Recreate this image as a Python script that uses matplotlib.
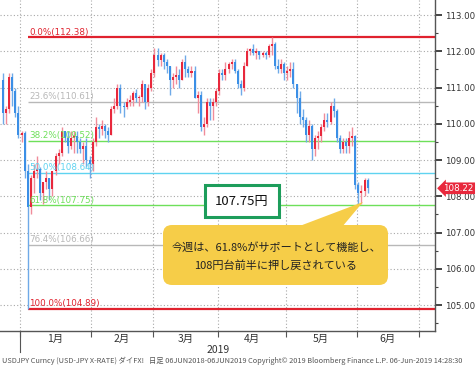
import numpy as np
import pandas as pd
import matplotlib
matplotlib.use('Agg')
import matplotlib.pyplot as plt
from matplotlib.patches import FancyBboxPatch, Rectangle, Polygon
from matplotlib.lines import Line2D
from matplotlib.transforms import Affine2D

plt.rcParams['font.family'] = ['Noto Sans CJK JP', 'DejaVu Sans']

# 日足 USD/JPY (2018/12/24 - 2019/06/06)
dates = pd.bdate_range('2018-12-24', '2019-06-06')

opens = [111.2, 110.3, 110.4, 111.3, 110.9, 110.3,
         109.7, 109.75, 108.7, 107.7, 108.5, 108.7, 108.75, 108.1, 108.4, 108.5, 108.2, 108.7, 109.1, 109.2, 109.8, 109.6, 109.4, 109.6, 109.65, 109.5, 109.3, 109.4, 109.0,
         108.9, 109.5, 109.9, 109.85, 109.95, 109.8, 109.7, 110.4, 110.5, 111.0, 110.5, 110.45, 110.6, 110.65, 110.85, 110.7, 110.75, 111.1, 110.6, 111.0,
         111.4, 111.9, 111.75, 111.9, 111.7, 111.6, 111.2, 111.3, 111.35, 111.2, 111.7, 111.5, 111.4, 111.45, 110.7, 110.8, 109.9, 110.0, 110.6, 110.5, 110.6,
         110.9, 111.4, 111.35, 111.5, 111.65, 111.7, 111.45, 111.1, 111.0, 111.6, 112.0, 112.05, 111.95, 112.0, 111.9, 111.95, 111.9, 112.15, 112.2, 111.6, 111.5, 111.65,
         111.4, 111.45, 111.5, 111.1, 110.7, 110.2, 110.1, 109.7, 109.95, 109.3, 109.6, 109.65, 109.9, 110.1, 110.05, 110.5, 110.35, 109.6, 109.3, 109.5, 109.4, 109.6, 109.65,
         108.3, 108.1, 108.15, 108.45]
highs = [111.4, 110.5, 111.4, 111.4, 111.0, 110.5,
         109.8, 109.8, 108.9, 108.6, 108.9, 109.1, 108.8, 108.4, 108.7, 108.5, 108.7, 109.2, 109.3, 109.9, 109.8, 109.8, 109.8, 109.8, 109.8, 109.6, 109.5, 109.6, 109.1,
         109.6, 110.2, 110.0, 110.1, 110.0, 109.9, 110.5, 110.7, 111.1, 111.1, 110.6, 110.7, 110.8, 110.9, 110.95, 110.8, 111.2, 111.1, 111.1, 111.5,
         112.1, 112.1, 111.95, 111.95, 111.8, 111.6, 111.4, 111.6, 111.5, 111.8, 111.9, 111.6, 111.6, 111.6, 110.9, 110.9, 110.2, 110.7, 110.7, 110.7, 111.0,
         111.5, 111.5, 111.7, 111.7, 111.8, 111.8, 111.5, 111.2, 111.7, 112.1, 112.1, 112.2, 112.1, 112.0, 112.0, 112.0, 112.2, 112.38, 112.25, 111.8, 111.8, 111.7,
         111.6, 111.7, 111.7, 111.1, 110.9, 110.4, 110.2, 110.1, 110.0, 109.7, 109.8, 110.0, 110.3, 110.3, 110.6, 110.7, 110.4, 109.7, 109.6, 109.6, 109.8, 109.9, 109.7,
         108.4, 108.3, 108.5, 108.5]
lows = [110.0, 110.0, 110.3, 110.5, 110.2, 109.6,
        109.5, 108.5, 104.89, 107.5, 108.1, 108.5, 107.9, 107.8, 108.2, 107.9, 108.0, 108.6, 108.9, 109.1, 109.5, 109.2, 109.3, 109.2, 109.2, 109.2, 108.9, 108.8, 108.5,
        108.7, 109.4, 109.6, 109.7, 109.6, 109.5, 109.7, 110.3, 110.4, 110.3, 110.2, 110.4, 110.5, 110.5, 110.6, 110.5, 110.6, 110.4, 110.5, 110.9,
        111.3, 111.6, 111.6, 111.5, 111.4, 110.8, 111.0, 111.1, 111.0, 111.2, 111.3, 111.3, 111.3, 110.7, 110.3, 109.8, 109.7, 109.9, 110.1, 110.1, 110.5,
        110.8, 111.2, 111.2, 111.4, 111.5, 111.4, 111.0, 110.8, 110.9, 111.6, 111.9, 111.9, 111.8, 111.8, 111.85, 111.8, 111.85, 111.9, 111.5, 111.4, 111.4, 111.2,
        111.2, 111.3, 111.0, 110.3, 110.0, 109.9, 109.5, 109.5, 109.0, 109.1, 109.3, 109.5, 109.8, 109.9, 110.0, 110.2, 109.5, 109.2, 109.2, 109.2, 109.2, 109.4, 108.2,
        107.8, 107.8, 108.0, 108.1]
closes = [110.3, 110.4, 111.3, 110.9, 110.3, 109.7,
          109.75, 108.7, 107.7, 108.5, 108.7, 108.75, 108.1, 108.4, 108.5, 108.2, 108.7, 109.1, 109.2, 109.8, 109.6, 109.4, 109.6, 109.65, 109.5, 109.3, 109.4, 109.0, 108.9,
          109.5, 109.9, 109.85, 109.95, 109.8, 109.7, 110.4, 110.5, 111.0, 110.5, 110.45, 110.6, 110.65, 110.85, 110.7, 110.75, 111.1, 110.6, 111.0, 111.4,
          111.9, 111.75, 111.9, 111.7, 111.6, 111.2, 111.3, 111.35, 111.2, 111.7, 111.5, 111.4, 111.45, 110.7, 110.8, 109.9, 110.0, 110.6, 110.5, 110.6, 110.9,
          111.4, 111.35, 111.5, 111.65, 111.7, 111.45, 111.1, 111.0, 111.6, 112.0, 112.05, 111.95, 112.0, 111.9, 111.95, 111.9, 112.15, 112.2, 111.6, 111.5, 111.65, 111.4,
          111.45, 111.5, 111.1, 110.7, 110.2, 110.1, 109.7, 109.95, 109.3, 109.6, 109.65, 109.9, 110.1, 110.05, 110.5, 110.35, 109.6, 109.3, 109.5, 109.4, 109.6, 109.65, 108.3,
          108.1, 108.15, 108.45, 108.22]

# フィボナッチ・リトレースメント
fib_pcts = ['0.0%', '23.6%', '38.2%', '50.0%', '61.8%', '76.4%', '100.0%']
fib_levels = [112.38, 110.61, 109.52, 108.64, 107.75, 106.66, 104.89]
fib_colors = ['#e0222e', '#b8b8b8', '#6ee05a', '#5fd3f0', '#6ee05a', '#b8b8b8', '#e0222e']

month_labels = ['1月', '2月', '3月', '4月', '5月', '6月']
month_starts = ['2019-01-01', '2019-02-01', '2019-03-01', '2019-04-01',
                '2019-05-01', '2019-06-01', '2019-07-01']
last_price = 108.22

W, H = 476, 368
fig = plt.figure(figsize=(W / 100, H / 100), dpi=100)
ax = fig.add_axes([0, 37 / H, 435 / W, 331 / H])
px = Affine2D().scale(1, -1).translate(0, H)  # 画像ピクセル座標

# 営業日インデックス (2019/1/1 = 0)
x = np.array([np.busday_count('2019-01-01', d.strftime('%Y-%m-%d')) for d in dates], dtype=float)
bounds = np.array([np.busday_count('2019-01-01', m) for m in month_starts]) - 0.5

o, h, l, c = map(np.array, (opens, highs, lows, closes))
up = c >= o
body_col = np.where(up, '#e8283c', '#3b8fe6')
wick_col = np.where(up, '#f08c9a', '#6faae8')

ax.vlines(x, l, h, colors=wick_col, lw=1.0, zorder=3)
ax.bar(x, np.maximum(np.abs(c - o), 0.04), bottom=np.minimum(o, c), width=0.65,
       color=body_col, zorder=4)

x_end = 133.8
for p, lv, col in zip(fib_pcts, fib_levels, fib_colors):
    lw = 1.6 if p in ('0.0%', '100.0%') else 1.0
    ax.hlines(lv, 2.1, x_end, colors=col, lw=lw, zorder=2)
    ax.text(2.4, lv + 0.02, f'{p}({lv:.2f})', color=col, fontsize=6.3,
            va='bottom', ha='left', family='DejaVu Sans', zorder=5)

ax.set_xlim(-6.97, x_end)
ax.set_ylim(104.283, 113.414)

ax.yaxis.tick_right()
ax.set_yticks(np.arange(105, 114))
ax.set_yticks(np.arange(104.5, 113.5, 0.5), minor=True)
ax.yaxis.set_major_formatter(matplotlib.ticker.FormatStrFormatter('%.2f'))
ax.tick_params(axis='y', which='major', length=5, width=1.4, colors='#444',
               labelsize=6.2, pad=2, labelcolor='#333')
ax.tick_params(axis='y', which='minor', length=2.5, width=0.8, colors='#444')
for t in ax.get_yticklabels():
    t.set_family('DejaVu Sans')

ax.set_xticks(bounds, minor=True)
ax.set_xticks((bounds[:-1] + bounds[1:]) / 2)
ax.set_xticklabels(month_labels, fontsize=7.5, color='#333')
ax.tick_params(axis='x', which='major', length=0, pad=2)
ax.tick_params(axis='x', which='minor', length=4, width=0.8, colors='#555')

ax.grid(which='major', axis='y', color='#a8a8a8', ls=(0, (1, 2)), lw=0.8)
ax.grid(which='minor', axis='x', color='#a8a8a8', ls=(0, (1, 2)), lw=0.8)
ax.set_axisbelow(True)

for s in ('top', 'left'):
    ax.spines[s].set_visible(False)
for s in ('right', 'bottom'):
    ax.spines[s].set_color('#555')
    ax.spines[s].set_linewidth(1.0)

# 現在値タグ
ax.annotate(f'{last_price:.2f}', xy=(1.0, last_price), xycoords=('axes fraction', 'data'),
            xytext=(6, 0), textcoords='offset points', ha='left', va='center',
            fontsize=6.3, color='white', family='DejaVu Sans', annotation_clip=False,
            bbox=dict(boxstyle='larrow,pad=0.15', fc='#e8283c', ec='none'))

# 年の区切り・フッター
fig.add_artist(Line2D([20 / W, 20 / W], [1 - 331 / H, 1 - 352 / H], color='#555', lw=0.8))
fig.text(218 / W, 1 - 350 / H, '2019', ha='center', va='center', fontsize=7.5, color='#333')
fig.text(2 / W, 1 - 361 / H,
         'USDJPY Curncy (USD-JPY X-RATE) ダイFX!   日足 06JUN2018-06JUN2019 '
         'Copyright© 2019 Bloomberg Finance L.P. 06-Jun-2019 14:28:30',
         ha='left', va='center', fontsize=5.3, color='#555')

# 吹き出し
fig.add_artist(Rectangle((205, 185), 74, 32, transform=px, fc='white',
                         ec='#1d9d5b', lw=2.2))
fig.text(242, 201, '107.75円', transform=px, ha='center', va='center',
         fontsize=9.5, color='#111')

fig.add_artist(FancyBboxPatch((163, 225), 225, 60, transform=px,
                              boxstyle='round,pad=0,rounding_size=9',
                              fc='#f6cd48', ec='none'))
fig.add_artist(Polygon([(297, 227), (342, 227), (363, 202)], closed=True,
                       transform=px, fc='#f6cd48', ec='none'))
fig.text(276, 247, '今週は、61.8%がサポートとして機能し、', transform=px,
         ha='center', va='center', fontsize=8, color='#222')
fig.text(276, 265, '108円台前半に押し戻されている', transform=px,
         ha='center', va='center', fontsize=8, color='#222')

fig.savefig('out.png', dpi=100)
